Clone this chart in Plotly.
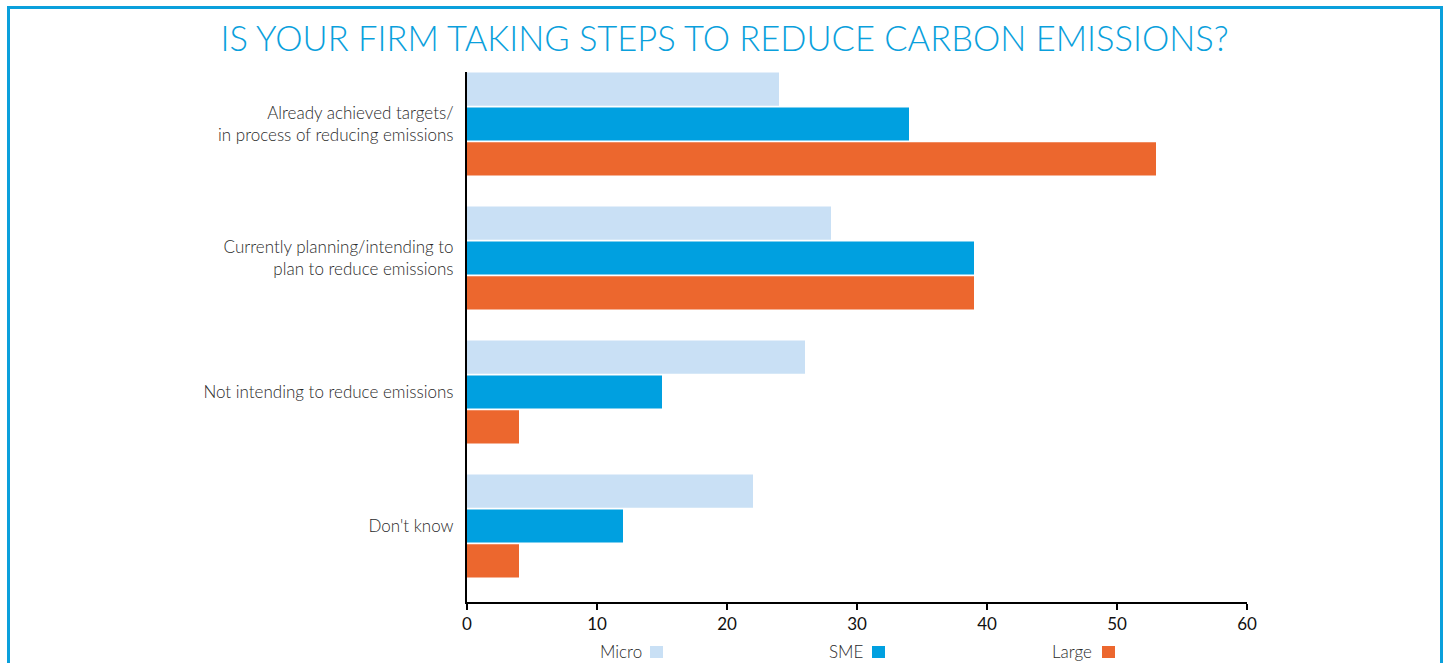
import plotly.graph_objects as go

categories = [
    "Already achieved targets/<br>in process of reducing emissions",
    "Currently planning/intending to<br>plan to reduce emissions",
    "Not intending to reduce emissions",
    "Don't know",
]
series_names = ["Micro", "SME", "Large"]
micro = [24, 28, 26, 22]
sme = [34, 39, 15, 12]
large = [53, 39, 4, 4]
colors = ["#c9e0f5", "#00a0e0", "#ec672e"]
x_ticks = [0, 10, 20, 30, 40, 50, 60]

FONT = "Lato"
TXT = "#2a2a2a"

fig = go.Figure()
for name, vals, col in zip(series_names, [micro, sme, large], colors):
    fig.add_trace(go.Bar(
        y=categories, x=vals, name=name, orientation="h",
        marker=dict(color=col, line=dict(width=0)),
        showlegend=False, hoverinfo="x+name",
    ))

W, H = 1449, 663
L, R, T, B = 467, 202, 72, 61
pw, ph = W - L - R, H - T - B

def px_x(p):
    return (p - L) / pw

def px_y(p):
    return (H - B - p) / ph

shapes = [
    dict(type="rect", xref="paper", yref="paper",
         x0=px_x(8.5), x1=px_x(1441.5), y0=px_y(7.5), y1=px_y(720),
         line=dict(color="#0aa0dc", width=3), fillcolor="rgba(0,0,0,0)", layer="below"),
]
annotations = []
legend_pos = [(644, 650), (865, 872), (1094, 1102)]
for name, col, (tx, sx) in zip(series_names, colors, legend_pos):
    annotations.append(dict(
        xref="paper", yref="paper", x=px_x(tx), y=px_y(651), xanchor="right", yanchor="middle",
        text=name, showarrow=False, font=dict(family=FONT, size=17, color=TXT, weight=300)))
    shapes.append(dict(type="rect", xref="paper", yref="paper",
                       x0=px_x(sx), x1=px_x(sx + 13), y0=px_y(658), y1=px_y(646),
                       line=dict(width=0), fillcolor=col))

fig.update_layout(
    width=W, height=H,
    margin=dict(l=L, r=R, t=T, b=B, pad=0),
    paper_bgcolor="white", plot_bgcolor="white",
    barmode="group", bargap=0.218, bargroupgap=0.05,
    title=dict(text="IS YOUR FIRM TAKING STEPS TO REDUCE CARBON EMISSIONS?",
               x=0.5, xanchor="center", y=1 - 39 / H, yanchor="middle",
               font=dict(family=FONT, size=34.5, color="#0aa0dc", weight=300)),
    xaxis=dict(range=[0, 60], tickvals=x_ticks, showgrid=False, zeroline=False,
               showline=True, linecolor="black", linewidth=2,
               ticks="outside", ticklen=6, tickwidth=2, tickcolor="black",
               tickfont=dict(family=FONT, size=17, color="#111111"), fixedrange=True),
    yaxis=dict(type="category", range=[3.567, -0.388], showgrid=False, zeroline=False,
               showline=True, linecolor="black", linewidth=2, ticks="",
               ticklabelstandoff=8,
               tickfont=dict(family=FONT, size=17, color=TXT, weight=300), fixedrange=True),
    shapes=shapes, annotations=annotations,
)

fig.write_html("out.html")
